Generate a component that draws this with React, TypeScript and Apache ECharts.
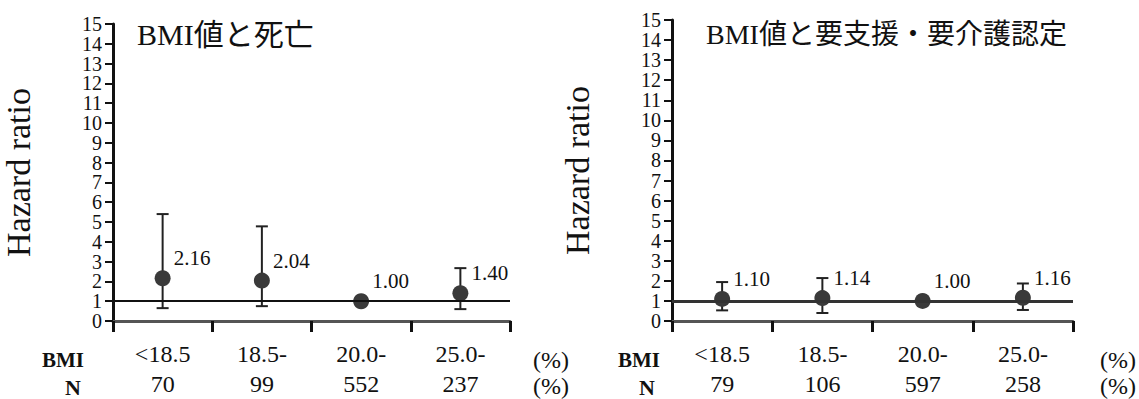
import React, { useEffect, useRef } from "react";
import * as echarts from "echarts";

// ---- data ----
const categories = ["<18.5", "18.5-", "20.0-", "25.0-"];
const nMortality = [70, 99, 552, 237];
const nCare = [79, 106, 597, 258];
const hrMortality = [2.16, 2.04, 1.0, 1.4];
const lowMortality = [0.65, 0.75, null, 0.6];
const highMortality = [5.4, 4.78, null, 2.67];
const hrCare = [1.1, 1.14, 1.0, 1.16];
const lowCare = [0.53, 0.4, null, 0.55];
const highCare = [1.94, 2.14, null, 1.87];
const titleMortality = "BMI値と死亡";
const titleCare = "BMI値と要支援・要介護認定";
const yName = "Hazard ratio";
const rowLabels = ["BMI", "N"];
const unitLabel = "(%)";
const refValue = 1;

const SERIF = "Liberation Serif";
const CJK = "Noto Sans CJK JP";

export default function App() {
  const ref = useRef<HTMLDivElement>(null);
  useEffect(() => {
    if (!ref.current) return;
    const chart = echarts.init(ref.current, null, { renderer: "svg" });

    const grids = [
      { left: 103, top: 24, width: 407, height: 307 },
      { left: 672, top: 20, width: 401, height: 309 },
    ];
    const nArr = [nMortality, nCare];
    const hrArr = [hrMortality, hrCare];
    const lowArr = [lowMortality, lowCare];
    const highArr = [highMortality, highCare];

    const xAxes = grids.map((_, gi) => ({
      type: "category",
      gridIndex: gi,
      data: categories,
      boundaryGap: true,
      axisLine: { lineStyle: { color: "#555", width: 3 } },
      axisTick: { show: true, length: 11, lineStyle: { color: "#111", width: 3 } },
      axisLabel: {
        interval: 0,
        margin: 18,
        fontSize: 24,
        lineHeight: 30,
        color: "#111",
        fontFamily: SERIF,
        formatter: (v: string, i: number) => `${v}\n${nArr[gi][i]}`,
      },
      splitLine: { show: false },
    }));

    const yAxes = grids.map((_, gi) => ({
      type: "value",
      gridIndex: gi,
      min: 0,
      max: 15,
      interval: 1,
      name: yName,
      nameLocation: "middle",
      nameGap: 78,
      nameRotate: 90,
      nameTextStyle: { fontSize: 34, color: "#111", fontFamily: SERIF },
      axisLine: { show: true, lineStyle: { color: "#111", width: 3 } },
      axisTick: { show: true, length: 8, lineStyle: { color: "#111", width: 2 } },
      axisLabel: {
        margin: 11,
        fontSize: 20,
        color: "#111",
        fontFamily: SERIF,
        showMinLabel: true,
        showMaxLabel: true,
        hideOverlap: false,
      },
      splitLine: { show: false },
    }));

    const series: any[] = [];
    grids.forEach((_, gi) => {
      const errData = categories
        .map((_, i) => [i, lowArr[gi][i], highArr[gi][i]])
        .filter((d) => d[1] != null && d[2] != null);
      series.push({
        type: "custom",
        xAxisIndex: gi,
        yAxisIndex: gi,
        data: errData,
        z: 3,
        renderItem: (params: any, api: any) => {
          const lo = api.coord([api.value(0), api.value(1)]);
          const hi = api.coord([api.value(0), api.value(2)]);
          const cap = 6;
          const st = { stroke: "#222", lineWidth: 2 };
          return {
            type: "group",
            children: [
              { type: "line", shape: { x1: lo[0], y1: lo[1], x2: hi[0], y2: hi[1] }, style: st },
              { type: "line", shape: { x1: lo[0] - cap, y1: lo[1], x2: lo[0] + cap, y2: lo[1] }, style: st },
              { type: "line", shape: { x1: hi[0] - cap, y1: hi[1], x2: hi[0] + cap, y2: hi[1] }, style: st },
            ],
          };
        },
      });
      series.push({
        type: "scatter",
        xAxisIndex: gi,
        yAxisIndex: gi,
        data: hrArr[gi],
        symbol: "circle",
        symbolSize: 16,
        z: 4,
        itemStyle: { color: "#3a3a3a", opacity: 1 },
        label: {
          show: true,
          position: "right",
          distance: 3,
          offset: [0, -20],
          fontSize: 21,
          color: "#111",
          fontFamily: SERIF,
          formatter: (p: any) => Number(p.value).toFixed(2),
        },
        markLine: {
          silent: true,
          symbol: ["none", "none"],
          label: { show: false },
          lineStyle: { color: gi === 0 ? "#111" : "#333", width: gi === 0 ? 2 : 3, type: "solid" },
          data: [{ yAxis: refValue }],
        },
      });
    });

    const txt = (
      text: string,
      x: number,
      y: number,
      size: number,
      align: string,
      bold = false,
      family = SERIF
    ) => ({
      type: "text",
      x,
      y,
      style: {
        text,
        fontSize: size,
        fontFamily: family,
        fontWeight: bold ? "bold" : "normal",
        fill: "#111",
        align,
        verticalAlign: "middle",
      },
    });

    const graphic = [
      txt(titleMortality, 137, 34, 30, "left", false, SERIF + ", " + CJK),
      txt(titleCare, 706, 34, 28, "left", false, SERIF + ", " + CJK),
      txt(rowLabels[0], 63, 360, 21, "center", true),
      txt(rowLabels[1], 73, 387, 22, "center", true),
      txt(unitLabel, 551, 360, 24, "center"),
      txt(unitLabel, 551, 386, 24, "center"),
      txt(rowLabels[0], 639, 360, 21, "center", true),
      txt(rowLabels[1], 647, 387, 22, "center", true),
      txt(unitLabel, 1118, 360, 24, "center"),
      txt(unitLabel, 1118, 386, 24, "center"),
    ];

    chart.setOption({
      animation: false,
      backgroundColor: "#fff",
      grid: grids,
      xAxis: xAxes,
      yAxis: yAxes,
      series,
      graphic,
    });
    return () => chart.dispose();
  }, []);

  return (
    <div
      ref={ref}
      style={{ position: "fixed", left: 0, top: 0, width: 1139, height: 399 }}
    />
  );
}
